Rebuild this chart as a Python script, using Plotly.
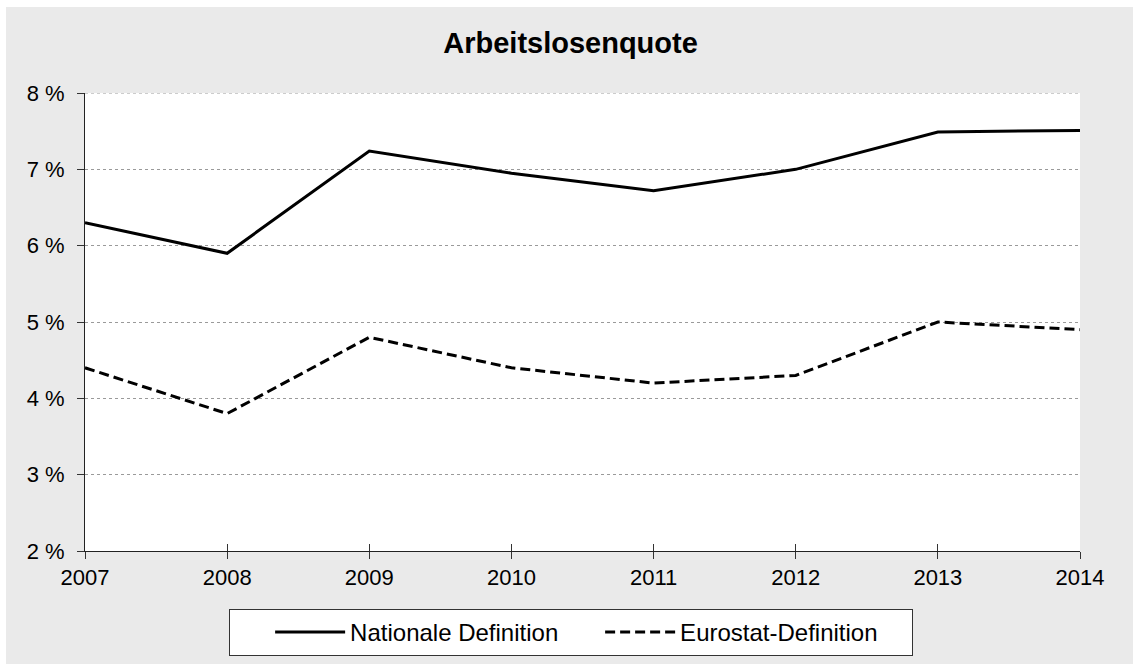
import plotly.graph_objects as go

years = [2007, 2008, 2009, 2010, 2011, 2012, 2013, 2014]
nationale = [6.3, 5.9, 7.24, 6.95, 6.72, 7.0, 7.49, 7.51]
eurostat = [4.4, 3.8, 4.8, 4.4, 4.2, 4.3, 5.0, 4.9]
y_ticks = [2, 3, 4, 5, 6, 7, 8]
y_ticklabels = [f"{v} %" for v in y_ticks]

W, H = 1133, 664
ML, MR, MT, MB = 85, 53, 93, 113
PW, PH = W - ML - MR, H - MT - MB

FONT = "Liberation Sans, Arial, sans-serif"
BG = "#eaeaea"
GRID = "#9a9a9a"

fig = go.Figure()
fig.add_trace(go.Scatter(x=years, y=nationale, mode="lines", name="Nationale Definition",
                         legendwidth=245,
                         line=dict(color="black", width=3)))
fig.add_trace(go.Scatter(x=years, y=eurostat, mode="lines", name="Eurostat-Definition",
                         legendwidth=226,
                         line=dict(color="black", width=3, dash="10px,5px")))
# invisible helper trace so the overlaid axis (inside half of the cross ticks) is drawn
fig.add_trace(go.Scatter(x=years, y=eurostat, mode="lines", xaxis="x2", showlegend=False,
                         hoverinfo="skip", line=dict(color="rgba(0,0,0,0)", width=0)))

def px_x(p):
    return (p - ML) / PW

def px_y(p):
    return (H - MB - p) / PH

fig.update_layout(
    width=W, height=H,
    margin=dict(l=ML, r=MR, t=MT, b=MB, pad=0, autoexpand=False),
    paper_bgcolor=BG, plot_bgcolor="white",
    font=dict(family=FONT, size=22, color="black"),
    title=dict(text="<b>Arbeitslosenquote</b>", font=dict(family=FONT, size=29, color="black"),
               x=0.488, xref="paper", xanchor="center",
               y=(H - 43) / H, yref="container", yanchor="middle"),
    showlegend=True,
    legend=dict(orientation="h", x=0.488, xanchor="center", y=px_y(609), yanchor="top",
                bgcolor="white", bordercolor="#333333", borderwidth=1,
                font=dict(family=FONT, size=24, color="black"),
                title=dict(text="&nbsp;" * 5, font=dict(family=FONT, size=22)),
                itemwidth=70, tracegroupgap=0),
    xaxis=dict(range=[2007, 2014], tickvals=years, ticktext=[str(y) for y in years],
               showgrid=False, zeroline=False, showline=True, linecolor="#222222", linewidth=1,
               ticks="outside", ticklen=7, tickcolor="#333333", tickwidth=1,
               tickfont=dict(family=FONT, size=22, color="black"), fixedrange=True),
    xaxis2=dict(range=[2007, 2014], tickvals=years, overlaying="x", side="bottom",
                showgrid=False, zeroline=False, showline=False, showticklabels=False,
                ticks="inside", ticklen=7, tickcolor="#333333", tickwidth=1, fixedrange=True),
    yaxis=dict(range=[2, 8], tickvals=y_ticks, ticktext=y_ticklabels,
               showgrid=True, gridcolor=GRID, griddash="dot", gridwidth=1,
               zeroline=False, showline=True, linecolor="#222222", linewidth=1,
               ticks="outside", ticklen=7, tickcolor="#333333", tickwidth=1,
               ticklabelstandoff=8,
               tickfont=dict(family=FONT, size=22, color="black"), fixedrange=True),
    shapes=[
        dict(type="rect", xref="paper", yref="paper", x0=px_x(0), x1=px_x(6), y0=px_y(H), y1=px_y(0),
             fillcolor="white", line=dict(width=0), layer="below"),
        dict(type="rect", xref="paper", yref="paper", x0=px_x(0), x1=px_x(W), y0=px_y(7), y1=px_y(0),
             fillcolor="white", line=dict(width=0), layer="below"),
        # top gridline (plotly suppresses the grid line lying on the plot edge)
        dict(type="line", xref="paper", yref="y", x0=0, x1=1, y0=max(y_ticks), y1=max(y_ticks),
             line=dict(color=GRID, width=1, dash="dot"), layer="below"),
    ],
)

fig.write_html("out.html", config={"displayModeBar": False})
